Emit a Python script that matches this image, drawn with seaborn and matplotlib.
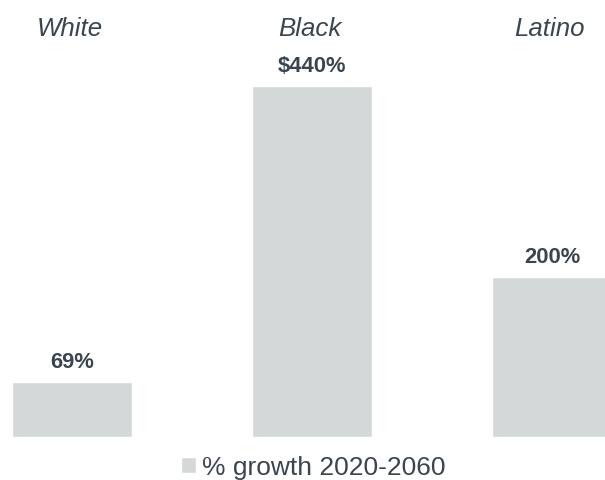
import matplotlib
matplotlib.use("Agg")
import matplotlib.pyplot as plt
import matplotlib.transforms as mtransforms
import seaborn as sns
import pandas as pd

categories = ["White", "Black", "Latino"]
values = [69, 440, 200]
value_labels = ["69%", "$440%", "200%"]
series_name = "% growth 2020-2060"

BAR = "#d4d8d9"
TXT = "#3b4550"

sns.set_theme(style="white")
plt.rcParams["font.family"] = ["Liberation Sans", "DejaVu Sans"]

fig = plt.figure(figsize=(6.05, 4.81), dpi=100)
ax = fig.add_axes([0, 43 / 481, 1, 438 / 481])

df = pd.DataFrame({"cat": categories, "val": values})
sns.barplot(data=df, x="cat", y="val", order=categories, color=BAR,
            width=0.5, ax=ax, label=series_name, saturation=1)

ax.set_xlim(-0.3, 2.22)
ax.set_ylim(0, 438 / (351 / 440))
ax.axis("off")

for i, (v, lab) in enumerate(zip(values, value_labels)):
    ax.annotate(lab.replace("$", r"\$"), xy=(i, v), xytext=(0, 11), textcoords="offset points",
                ha="center", va="baseline", fontsize=15.8, fontweight="bold", color=TXT)

trans = mtransforms.blended_transform_factory(ax.transData, fig.transFigure)
for i, c in enumerate(categories):
    ax.text(i - 0.01, (481 - 36) / 481, c, transform=trans, ha="center", va="baseline",
            fontsize=18.6, fontstyle="italic", color=TXT)

handles, labels = ax.get_legend_handles_labels()
if ax.get_legend() is not None:
    ax.get_legend().remove()
fig.legend(handles, labels, loc="center", bbox_to_anchor=(0.518, (481 - 468) / 481),
           frameon=False, fontsize=19, handlelength=0.55, handleheight=0.55,
           handletextpad=0.25, labelcolor=TXT)

fig.savefig("out.png", dpi=100)
